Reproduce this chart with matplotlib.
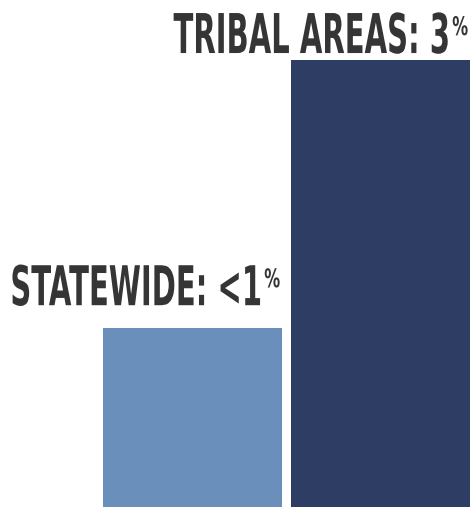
import matplotlib
matplotlib.use("Agg")
import matplotlib.pyplot as plt
from matplotlib.patheffects import AbstractPathEffect
from matplotlib.transforms import Affine2D, Bbox

categories = ["STATEWIDE", "TRIBAL AREAS"]
values = [1.2, 3.0]
value_labels = ["<1", "3"]
colors = ["#6a8fba", "#2e3d63"]


class Squeeze(AbstractPathEffect):
    """Narrow the glyphs horizontally about a fixed display x (text stays text)."""
    def __init__(self, sx, x0):
        super().__init__()
        self.sx = sx
        self.x0 = x0

    def draw_path(self, renderer, gc, tpath, affine, rgbFace=None):
        a = affine + Affine2D().translate(-self.x0, 0).scale(self.sx, 1).translate(self.x0, 0)
        renderer.draw_path(gc, tpath, a, rgbFace)


def squeezed_text(ax, s, xy, dx, dy, size, sx, x0):
    t = ax.annotate(s, xy=xy, xytext=(dx, dy), textcoords="offset points",
                    ha="right", va="baseline", fontsize=size, fontweight="bold",
                    family="DejaVu Sans", color="#353535",
                    path_effects=[Squeeze(sx, x0)])
    orig = t.get_window_extent

    def extent(renderer=None, _o=orig):
        bb = _o(renderer)
        return Bbox([[x0 + (bb.x0 - x0) * sx, bb.y0], [x0 + (bb.x1 - x0) * sx, bb.y1]])

    t.get_window_extent = extent
    return t


fig = plt.figure(figsize=(4.72, 5.07), dpi=100)
ax = fig.add_axes([0, 0, 1, 1])
x = list(range(len(categories)))
width = 0.955
ax.bar(x, values, width=width, color=colors, align="center")
ax.set_xlim(-1.024, 1.487)
ax.set_ylim(0, 3.403)
ax.axis("off")

px = 72 / fig.dpi  # points per pixel
gap_px = [23, 7]
for i, (cat, lab, v) in enumerate(zip(categories, value_labels, values)):
    right = i + width / 2
    rx = ax.transData.transform((right, v))[0]
    main_dx, pct_dx = -20, -2
    squeezed_text(ax, f"{cat}: {lab}", (right, v), main_dx * px, gap_px[i] * px,
                  39.5, 0.53, rx + main_dx)
    squeezed_text(ax, "%", (right, v), pct_dx * px, (gap_px[i] + 18) * px,
                  18.5, 0.62, rx + pct_dx)

fig.savefig("out.png", dpi=100)
